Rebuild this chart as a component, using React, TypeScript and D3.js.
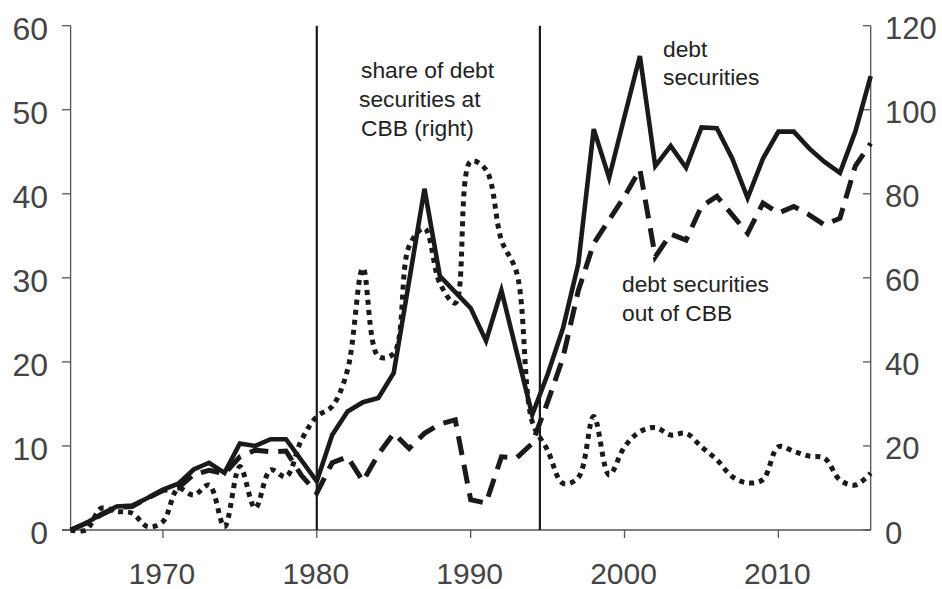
import React from "react";
import * as d3 from "d3";

const years: number[] = d3.range(1964, 2017);

// debt securities (left axis)
const debtSecurities: number[] = [
  0, 0.8, 1.9, 2.8, 2.9, 3.8, 4.8, 5.5, 7.2, 8.0, 6.8, 10.3, 10.0, 10.8, 10.8, 8.3, 5.8,
  11.3, 14.1, 15.2, 15.7, 18.7, 29.6, 40.6, 30.2, 28.3, 26.4, 22.5, 28.5, 21.1, 13.7,
  18.5, 24.0, 31.7, 47.7, 41.9, 49.2, 56.4, 43.3, 45.7, 43.1, 47.9, 47.8, 44.2, 39.5,
  44.2, 47.4, 47.4, 45.4, 43.8, 42.5, 47.4, 54.0,
];

// debt securities out of CBB (left axis)
const debtOutCBB: number[] = [
  0, 0.8, 1.8, 2.7, 2.8, 3.8, 4.7, 5.0, 6.6, 7.1, 6.7, 8.7, 9.5, 9.3, 9.4, 6.5, 4.4,
  8.0, 8.7, 5.8, 9.0, 11.5, 9.7, 11.5, 12.6, 13.1, 3.6, 3.2, 8.7, 8.6, 10.3,
  15.2, 20.5, 28.5, 34.1, 36.9, 39.7, 42.9, 32.5, 35.2, 34.5, 38.5, 39.7, 37.5, 35.3,
  38.9, 37.7, 38.5, 37.5, 36.3, 37.1, 43.3, 46.0,
];

// share of debt securities at CBB (right axis, %)
const shareAtCBB: number[] = [
  0, 0, 5.2, 4.4, 4.0, 0.8, 2.0, 9.9, 8.3, 10.7, 0.8, 15.1, 5.2, 14.3, 12.7, 21.4, 27.0,
  29.4, 38.1, 62.3, 41.3, 42.0, 67.5, 71.8, 58.7, 54.0, 87.7, 85.7, 69.0, 61.1, 25.8,
  19.0, 11.1, 12.5, 27.0, 13.1, 19.8, 23.4, 24.4, 22.6, 23.0, 19.8, 16.7, 12.7, 11.2,
  12.0, 19.8, 18.7, 17.6, 17.1, 11.9, 10.7, 13.5,
];

const leftTicks: number[] = [0, 10, 20, 30, 40, 50, 60];
const rightTicks: number[] = [0, 20, 40, 60, 80, 100, 120];
const xTicks: number[] = [1970, 1980, 1990, 2000, 2010];
const markerYears: number[] = [1980, 1994.5];

const W = 942;
const H = 589;
const X0 = 70.6;
const X1 = 870.7;
const Y0 = 530;
const Ytop = 25.7;

export default function App() {
  const x = d3.scaleLinear().domain([1964, 2016]).range([X0, X1]);
  const yL = d3.scaleLinear().domain([0, 60]).range([Y0, Ytop]);
  const yR = d3.scaleLinear().domain([0, 120]).range([Y0, Ytop]);

  const lineL = d3
    .line<number>()
    .x((_, i) => x(years[i]))
    .y((d) => yL(d));
  const lineR = d3
    .line<number>()
    .x((_, i) => x(years[i]))
    .y((d) => yR(d))
    .curve(d3.curveCatmullRom.alpha(0.5));

  const axisColor = "#555";
  const labelColor = "#444";
  const font = "'Liberation Sans', Arial, Helvetica, sans-serif";

  return (
    <svg
      width={W}
      height={H}
      style={{ position: "absolute", left: 0, top: 0, background: "#fff" }}
      fontFamily={font}
    >
      {/* axes */}
      <line x1={X0} x2={X0} y1={Ytop} y2={Y0} stroke={axisColor} strokeWidth={1.3} />
      <line x1={X1} x2={X1} y1={Ytop} y2={Y0} stroke={axisColor} strokeWidth={1.3} />
      <line x1={62} x2={X1} y1={Y0} y2={Y0} stroke={axisColor} strokeWidth={1.3} />

      {leftTicks.map((t) => (
        <g key={"l" + t}>
          <line x1={62} x2={X0} y1={yL(t)} y2={yL(t)} stroke={axisColor} strokeWidth={1.3} />
          <text
            x={48}
            y={yL(t) + 3}
            textAnchor="end"
            dominantBaseline="central"
            fontSize={32}
            fill={labelColor}
          >
            {t}
          </text>
        </g>
      ))}
      {rightTicks.map((t) => (
        <g key={"r" + t}>
          <line x1={863} x2={X1} y1={yR(t)} y2={yR(t)} stroke={axisColor} strokeWidth={1.3} />
          <text
            x={885}
            y={yR(t) + 3}
            textAnchor="start"
            dominantBaseline="central"
            fontSize={31}
            fill={labelColor}
          >
            {t}
          </text>
        </g>
      ))}
      {xTicks.map((t) => (
        <g key={"x" + t}>
          <line x1={x(t)} x2={x(t)} y1={Y0} y2={Y0 + 8} stroke={axisColor} strokeWidth={1.3} />
          <text x={x(t) - 1} y={584} textAnchor="middle" fontSize={30} fill={labelColor}>
            {t}
          </text>
        </g>
      ))}

      {/* vertical marker lines */}
      {markerYears.map((m) => (
        <line key={"m" + m} x1={x(m)} x2={x(m)} y1={Ytop} y2={Y0} stroke="#1a1a1a" strokeWidth={2.2} />
      ))}

      {/* series */}
      <path
        d={lineR(shareAtCBB) || ""}
        fill="none"
        stroke="#1a1a1a"
        strokeWidth={5}
        strokeDasharray="5,5"
      />
      <path
        d={lineL(debtOutCBB) || ""}
        fill="none"
        stroke="#1a1a1a"
        strokeWidth={5}
        strokeDasharray="19,10"
      />
      <path
        d={lineL(debtSecurities) || ""}
        fill="none"
        stroke="#1a1a1a"
        strokeWidth={4.6}
        strokeLinejoin="miter"
      />

      {/* annotations */}
      <g fontSize={22.8} fill="#222">
        <text x={361} y={78}>share of debt</text>
        <text x={359} y={107}>securities at</text>
        <text x={361} y={136}>CBB (right)</text>
        <text x={663} y={57}>debt</text>
        <text x={663} y={85}>securities</text>
        <text x={622} y={292}>debt securities</text>
        <text x={622} y={321}>out of CBB</text>
      </g>
    </svg>
  );
}
